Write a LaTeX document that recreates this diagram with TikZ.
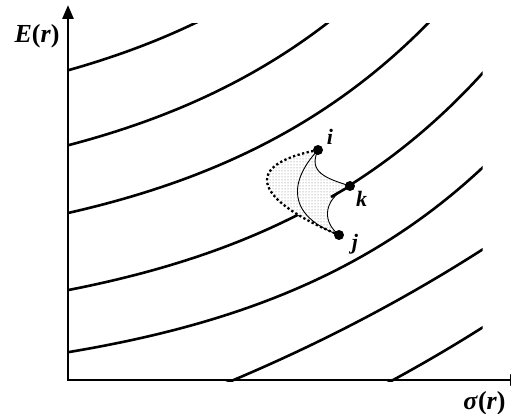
\documentclass[tikz,border=0pt]{standalone}
\usepackage{fontspec}
\setmainfont{Liberation Serif}
\usetikzlibrary{arrows.meta,patterns}
\begin{document}
\begin{tikzpicture}[x=1pt,y=-1pt,
  curve/.style={line width=2.6pt},
  axis/.style={line width=2.8pt},
  thinline/.style={line width=0.9pt},
  dotline/.style={line width=2.3pt, dash pattern=on 2.3pt off 2.4pt},
  dot/.style={circle, fill=black, inner sep=0pt, minimum size=10pt},
  lbl/.style={font=\fontsize{22}{26}\selectfont\bfseries\itshape, inner sep=0pt, anchor=base},
  axlbl/.style={font=\fontsize{26}{30}\selectfont\bfseries, inner sep=0pt, anchor=base}]
\useasboundingbox (0,0) rectangle (511,414);
% axes
\coordinate (O) at (68,380);
\coordinate (ytop) at (68,5);
\coordinate (xend) at (524,380);
% level curves
\begin{scope}
\clip (68,23.5) rectangle (482.5,381);
\draw[curve] plot[domain=60:240, samples=50] (\x, {137.9 - 67.6*exp((\x-68)/240)});
\draw[curve] plot[domain=60:360, samples=60] (\x, {208.1 - 62.8*exp((\x-68)/240)});
\draw[curve] plot[domain=60:450, samples=70] (\x, {267.5 - 54.5*exp((\x-68)/240)});
\draw[curve] plot[domain=60:495, samples=80] (\x, {337 - 46.9*exp((\x-68)/240)});
\draw[curve] plot[domain=60:495, samples=80] (\x, {392.1 - 39.9*exp((\x-68)/240)});
\draw[curve] plot[domain=220:495, samples=50] (\x, {633.8 - 192.6*exp((\x-68)/600)});
\draw[curve] plot[domain=380:495, samples=30] (\x, {706.6 - 190*exp((\x-68)/600)});
\end{scope}
\draw[axis, {Triangle[length=14pt,width=11pt]}-{Triangle[length=14pt,width=11pt]}] (ytop) -- (O) -- (xend);
% points
\coordinate (ic) at (318,150);
\coordinate (kc) at (350,186);
\coordinate (jc) at (339,235);
\coordinate (kb) at (331,197);
% shaded region
\fill[white] (ic) .. controls (240,165) and (255,200) .. (jc)
  .. controls (320,220) and (325,197) .. (kc)
  .. controls (325,178) and (308,172) .. (ic) -- cycle;
\fill[pattern=dots, pattern color=black!55] (ic) .. controls (240,165) and (255,200) .. (jc)
  .. controls (320,220) and (325,197) .. (kc)
  .. controls (325,178) and (308,172) .. (ic) -- cycle;
\draw[curve] (kb) -- (kc);
\draw[thinline] (ic) .. controls (308,172) and (325,178) .. (kc);
\draw[thinline] (kc) .. controls (325,197) and (320,220) .. (jc);
\draw[thinline] (ic) .. controls (290,180) and (285,215) .. (jc);
\draw[dotline] (ic) .. controls (240,165) and (255,200) .. (jc);
\node[dot] (i) at (ic) {};
\node[dot] (k) at (kc) {};
\node[dot] (j) at (jc) {};
\node[lbl] (il) at (330,145) {i};
\node[lbl] (kl) at (361.5,207) {k};
\node[lbl] (jl) at (355,249) {j};
\node[axlbl] (ey) at (37,43) {\textit{E}(\textit{r})};
\node[axlbl] (sx) at (484.5,409) {\textit{σ}(\textit{r})};
\end{tikzpicture}
\end{document}
